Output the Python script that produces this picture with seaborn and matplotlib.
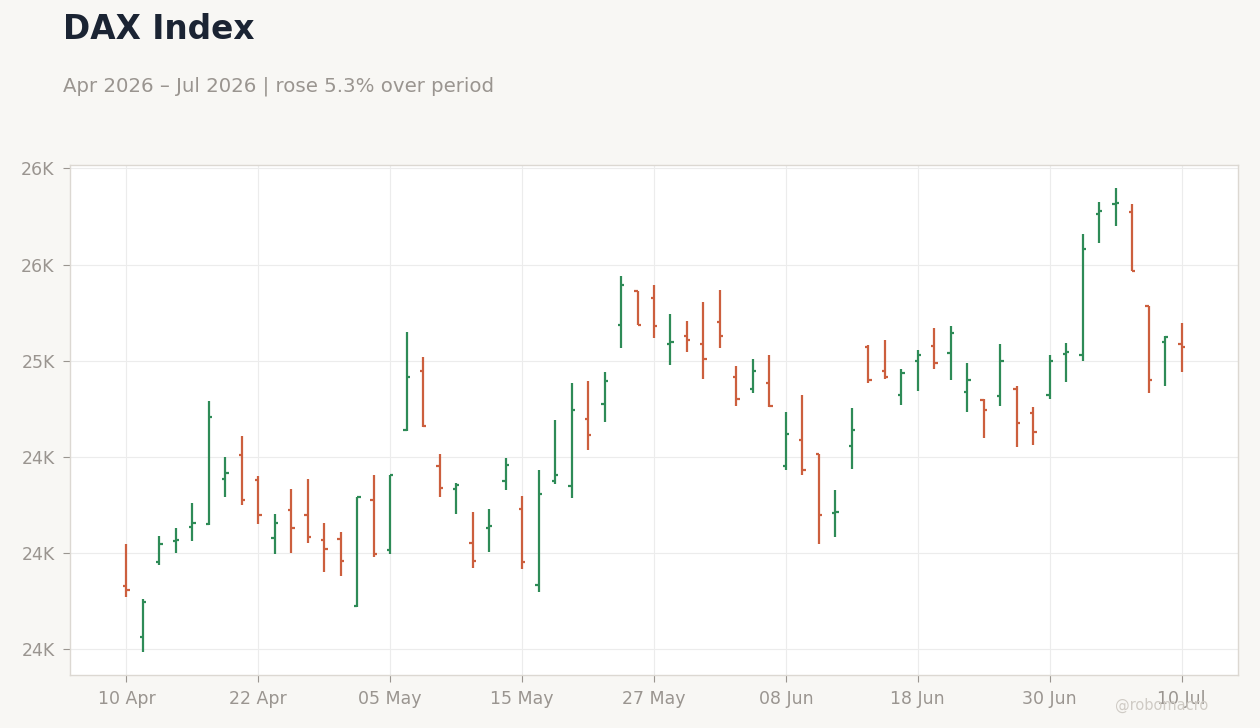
import matplotlib
matplotlib.use("Agg")
import matplotlib.pyplot as plt
import seaborn as sns
import pandas as pd
import numpy as np
from matplotlib.ticker import FuncFormatter, MultipleLocator, FixedLocator

# ---- data ----
dates = pd.bdate_range("2026-04-10", "2026-07-10", freq="C", holidays=["2026-05-01"])

opens = [23830, 23564, 23955, 24064, 24137, 24151, 24387, 24512, 24379, 24080,
         24221, 24200, 24069, 24073, 23722, 24278, 24017, 24637, 24945, 24450,
         24334, 24054, 24132, 24372, 24231, 23835, 24372, 24346, 24695, 24773,
         25184, 25362, 25325, 25085, 25127, 25085, 25200, 24913, 24851, 24882,
         24450, 24590, 24514, 24210, 24554, 25070, 24945, 24820, 24997, 25075,
         25038, 24835, 24796, 24815, 24851, 24726, 24820, 25033, 25028, 25763,
         25815, 25773, 25282, 25099, 25085]
highs = [24047, 23759, 24089, 24130, 24261, 24792, 24500, 24610, 24400, 24202,
         24334, 24386, 24156, 24110, 24293, 24407, 24405, 25150, 25021, 24516,
         24363, 24212, 24229, 24495, 24297, 24433, 24693, 24886, 24896, 24943,
         25438, 25362, 25396, 25245, 25204, 25303, 25365, 24974, 25011, 25027,
         24735, 24823, 24514, 24328, 24756, 25084, 25110, 24959, 25058, 25172,
         25178, 24990, 24801, 25089, 24870, 24761, 25027, 25094, 25657, 25824,
         25897, 25813, 25282, 25127, 25198]
lows = [23772, 23486, 23939, 24000, 24064, 24148, 24293, 24252, 24153, 23997,
        24002, 24054, 23903, 23882, 23720, 23978, 23993, 24636, 24655, 24293,
        24205, 23924, 24007, 24330, 23918, 23799, 24361, 24288, 24538, 24679,
        25065, 25183, 25117, 24976, 25044, 24903, 25065, 24762, 24830, 24757,
        24429, 24403, 24049, 24085, 24436, 24884, 24903, 24768, 24841, 24955,
        24898, 24731, 24596, 24762, 24549, 24559, 24799, 24887, 24997, 25612,
        25700, 25464, 24830, 24870, 24940]
closes = [23807, 23746, 24049, 24069, 24158, 24705, 24418, 24273, 24200, 24158,
          24132, 24084, 24021, 23960, 24293, 23995, 24403, 24917, 24662, 24340,
          24351, 23960, 24142, 24460, 23953, 24309, 24403, 24742, 24611, 24893,
          25393, 25183, 25179, 25096, 25106, 25007, 25127, 24799, 24945, 24762,
          24617, 24434, 24200, 24212, 24637, 24898, 24913, 24934, 25028, 24986,
          25143, 24898, 24742, 24997, 24674, 24627, 24997, 25044, 25580, 25778,
          25820, 25464, 24898, 25122, 25070]

title = "DAX Index"
subtitle = "Apr 2026 \u2013 Jul 2026 | rose 5.3% over period"
watermark = "@robomacro"

# ---- styling ----
BG = "#f8f7f4"
UP = "#2e8b57"
DOWN = "#cc5f3e"
GRID = "#ececec"
SPINE = "#dcd8d2"
TXT = "#9a9590"

sns.set_theme(style="whitegrid")
plt.rcParams["font.family"] = ["DejaVu Sans"]

df = pd.DataFrame({"date": dates, "open": opens, "high": highs,
                   "low": lows, "close": closes})
df["idx"] = np.arange(len(df))
df["up"] = df["close"] >= df["open"]
df["color"] = np.where(df["up"], UP, DOWN)

fig = plt.figure(figsize=(12.6, 7.28), dpi=100, facecolor=BG)
ax = fig.add_axes([70/1260, 1-675/728, (1238-70)/1260, (675-165)/728])
ax.set_facecolor("white")

tw = 0.2
ax.vlines(df["idx"], df["low"], df["high"], colors=df["color"], linewidth=1.6)
ax.hlines(df["open"], df["idx"] - tw, df["idx"], colors=df["color"], linewidth=1.6)
ax.hlines(df["close"], df["idx"], df["idx"] + tw, colors=df["color"], linewidth=1.6)

# axes formatting
ax.yaxis.set_major_locator(MultipleLocator(500))
ax.yaxis.set_major_formatter(FuncFormatter(lambda v, p: f"{v/1000:.0f}K"))
tick_idx = list(range(0, len(df), 8))
ax.xaxis.set_major_locator(FixedLocator(tick_idx))
ax.set_xticklabels([df["date"].iloc[i].strftime("%d %b") for i in tick_idx])

ax.grid(True, color=GRID, linewidth=0.8)
ax.set_axisbelow(True)
for s in ax.spines.values():
    s.set_color(SPINE)
    s.set_linewidth(1.0)
ax.tick_params(axis="both", colors=TXT, labelsize=12.5, length=5, width=0.8,
               direction="out", left=True, bottom=True)
ax.tick_params(axis="y", pad=6)
ax.tick_params(axis="x", pad=6)
ax.set_xlabel("")
ax.set_ylabel("")

fig.text(63/1260, 1-29.5/728, title, fontsize=23.6, fontweight="bold",
         color="#1b2433", va="center", ha="left")
fig.text(63/1260, 1-86/728, subtitle, fontsize=14.25, color=TXT,
         va="center", ha="left")
fig.text(1208/1260, 1-705/728, watermark, fontsize=10.5, color="#cfcbc5",
         va="center", ha="right")

fig.savefig("out.png", dpi=100, facecolor=BG)
